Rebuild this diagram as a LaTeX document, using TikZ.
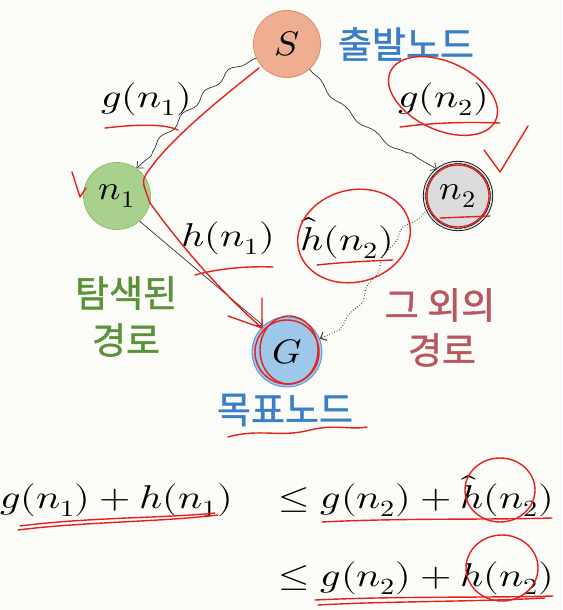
\documentclass[tikz,border=0pt]{standalone}
\usepackage{fontspec}
\usepackage{unicode-math}
\setmathfont{Latin Modern Math}
\newfontfamily\kr[FakeBold=1.2]{Noto Sans CJK KR}
\usetikzlibrary{arrows.meta,decorations.pathmorphing,calc}
\definecolor{bgc}{HTML}{FBFBF8}
\definecolor{sfill}{HTML}{EFAE92}
\definecolor{sdraw}{HTML}{E08A62}
\definecolor{gfill}{HTML}{A9D18E}
\definecolor{gdraw}{HTML}{8CC06E}
\definecolor{bfill}{HTML}{9DC8EA}
\definecolor{bdraw}{HTML}{4F8FD0}
\definecolor{nfill}{HTML}{DCDCDC}
\definecolor{txblue}{HTML}{3A7EC6}
\definecolor{txgreen}{HTML}{5A9238}
\definecolor{txred}{HTML}{B8585E}
\definecolor{pen}{HTML}{E3221E}
\newcommand{\mth}[1]{\scalebox{1.22}[1]{\fontsize{33}{40}\selectfont$#1$}}
\newcommand{\nmth}[1]{\scalebox{1.1}[1]{\fontsize{34}{40}\selectfont$#1$}}
\begin{document}
\begin{tikzpicture}[x=1pt,y=-1pt,
  circ/.style={circle,minimum size=67pt,inner sep=0pt,line width=0.8pt},
  krtext/.style={font=\kr\fontsize{37}{44}\selectfont,inner sep=0pt},
  lab/.style={inner sep=0pt},
  edge/.style={draw=black!80,line width=0.7pt,-{Straight Barb[length=5pt,width=9pt]}},
  redpen/.style={draw=pen,line width=1.4pt,line cap=round,line join=round}]
\fill[bgc] (0,0) rectangle (562,610);
\useasboundingbox (0,0) rectangle (562,610);

% nodes
\node[circ,fill=sfill,draw=sdraw] (S) at (287,44) {\nmth{S}};
\node[circ,fill=gfill,draw=gdraw] (n1) at (117,196) {\nmth{n_1}};
\node[circ,fill=nfill,draw=black,double=nfill,double distance=1.6pt] (n2) at (458,196) {\nmth{n_2}};
\node[circ,fill=bfill,draw=bdraw,minimum size=70pt] (G) at (287,352) {\nmth{G}};

% Korean texts
\node[krtext,text=txblue] (st) at (406,44) {출발노드};
\node[krtext,text=txblue] (gl) at (285,410) {목표노드};
\node[krtext,text=txgreen] (ex1) at (126,293) {탐색된};
\node[krtext,text=txgreen] (ex2) at (126,340) {경로};
\node[krtext,text=txred] (ot1) at (440,305) {그 외의};
\node[krtext,text=txred] (ot2) at (442,350) {경로};

% edge labels
\node[lab] (lg1) at (147,99) {\mth{g(n_1)}};
\node[lab] (lg2) at (444,99) {\mth{g(n_2)}};
\node[lab] (lh1) at (228,238) {\mth{h(n_1)}};
\node[lab] (lh2) at (347,238) {\mth{\hat{h}(n_2)}};

% edges
\draw[edge,decorate,decoration={snake,amplitude=2.5pt,segment length=32pt,pre length=3pt,post length=9pt}]
  (S.205) .. controls (232,62) and (165,145) .. (n1.55);
\draw[edge,decorate,decoration={snake,amplitude=2pt,segment length=38pt,pre length=3pt,post length=9pt}]
  (S.-48) .. controls (345,115) and (395,145) .. (n2.128);
\draw[edge] (n1.-48) -- (G.132);
\draw[edge,dotted,line width=1pt,decorate,decoration={snake,amplitude=2pt,segment length=34pt,pre length=2pt,post length=9pt}]
  (n2.205) .. controls (375,245) and (385,310) .. (G.22);

% equations
\node[lab,anchor=base west] (e1) at (0,508) {\mth{g(n_1)+h(n_1)}};
\node[lab,anchor=base east] (e2) at (554,508) {\mth{\leq g(n_2)+\hat{h}(n_2)}};
\node[lab,anchor=base east] (e3) at (554,586) {\mth{\leq g(n_2)+h(n_2)}};

% red handwritten annotations
\draw[redpen] (259,68) .. controls (225,95) and (175,135) .. (152,166) .. controls (140,182) and (142,180) .. (150,203)
  .. controls (190,258) and (230,300) .. (262,328);
\draw[redpen] (228,316) -- (262,328) -- (262,298);
\draw[redpen] (105,128) .. controls (140,124) and (165,124) .. (178,130);
\draw[redpen] (195,275) .. controls (220,268) and (250,266) .. (273,267);
\draw[redpen,rotate around={-25:(443,96)}] (443,96) ellipse (58pt and 34pt);
\draw[redpen] (400,127) .. controls (440,122) and (470,122) .. (500,123);
\draw[redpen] (484,150) -- (500,172) -- (528,126);
\draw[redpen] (458,196) circle (31pt);
\draw[redpen] (440,218) -- (490,216);
\draw[redpen,rotate around={15:(354,236)}] (354,236) ellipse (57pt and 46pt);
\draw[redpen] (317,265) .. controls (345,262) and (370,261) .. (393,260);
\draw[redpen] (72,172) -- (80,197) -- (86,188);
\draw[redpen] (287,352) circle (32pt);
\draw[redpen] (289,350) ellipse (29pt and 34pt);
\draw[redpen] (228,437) .. controls (260,428) and (280,438) .. (310,430) .. controls (335,424) and (350,430) .. (367,427);
\draw[redpen] (18,530) .. controls (80,522) and (160,522) .. (218,515) (20,526) .. controls (90,517) and (170,518) .. (215,513);
\draw[redpen] (322,522) .. controls (400,518) and (480,520) .. (552,518);
\draw[redpen] (500,490) ellipse (35pt and 32pt);
\draw[redpen] (315,600) .. controls (400,596) and (480,598) .. (553,596) (318,605) .. controls (390,601) and (470,602) .. (545,598);
\draw[redpen] (502,568) ellipse (36pt and 33pt);
\end{tikzpicture}
\end{document}
